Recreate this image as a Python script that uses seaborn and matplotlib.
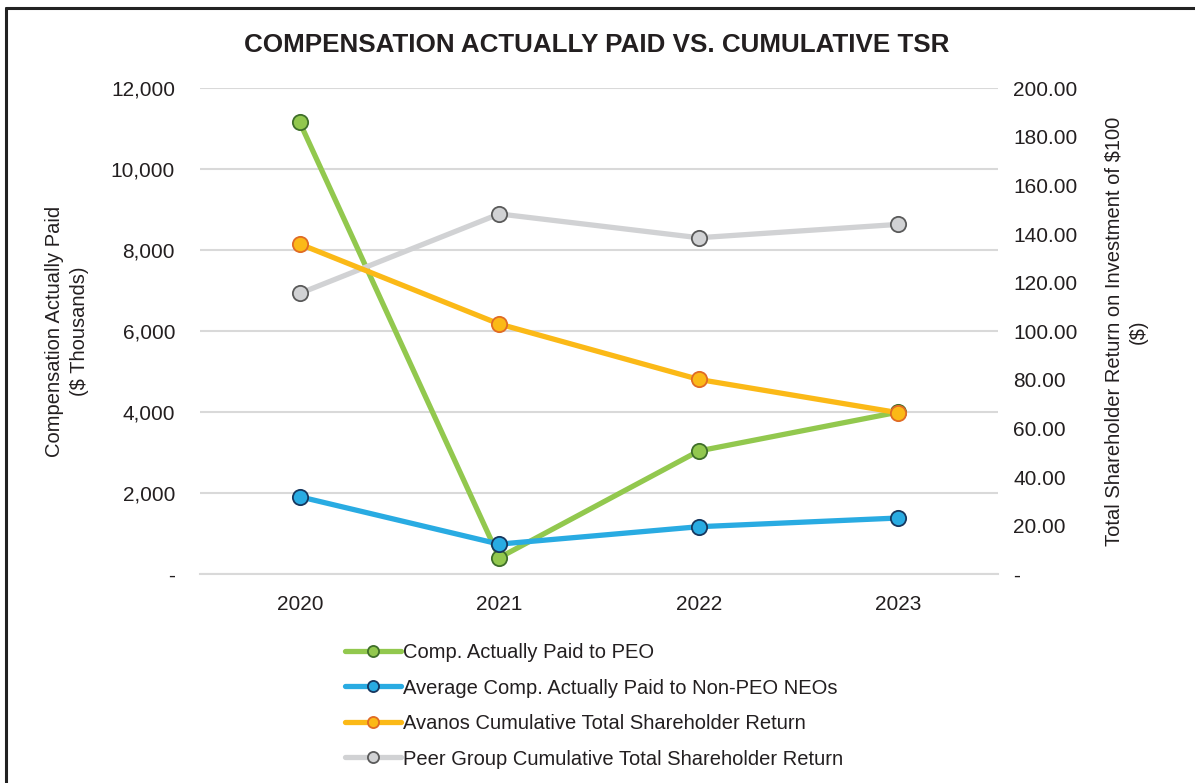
import matplotlib
matplotlib.use("Agg")
import matplotlib.pyplot as plt
from matplotlib.lines import Line2D
from matplotlib.ticker import FuncFormatter, FixedLocator
import seaborn as sns

# Fiscal years shown on the category axis
years = ["2020", "2021", "2022", "2023"]

# Compensation actually paid ($ thousands) - left axis
cap_peo = [11160, 410, 3045, 4005]
cap_non_peo = [1915, 745, 1175, 1390]

# Cumulative TSR, value of $100 invested - right axis
tsr_avanos = [135.9, 103.0, 80.2, 66.5]
tsr_peer = [115.6, 148.3, 138.5, 144.0]

series_labels = [
    "Comp. Actually Paid to PEO",
    "Average Comp. Actually Paid to Non-PEO NEOs",
    "Avanos Cumulative Total Shareholder Return",
    "Peer Group Cumulative Total Shareholder Return",
]

sns.set_theme(style="white")
plt.rcParams["font.family"] = ["Liberation Sans", "DejaVu Sans"]

TEXT = "#231f20"
GRID = "#d9d9d9"

W, H = 1195, 783
fig = plt.figure(figsize=(W / 100, H / 100), dpi=100)
fig.patch.set_facecolor("white")

ax = fig.add_axes([200 / W, 1 - 574.3 / H, (998 - 200) / W, (574.3 - 88.3) / H])
ax2 = ax.twinx()

pos = list(range(len(years)))

line_style = dict(linewidth=3.8, marker="o", markersize=11, markeredgewidth=1.3)

sns.lineplot(x=pos, y=cap_peo, ax=ax, color="#92c84e", markerfacecolor="#92c84e",
             markeredgecolor="#3f6f2a", label=series_labels[0], legend=False, **line_style)
sns.lineplot(x=pos, y=cap_non_peo, ax=ax, color="#29abe2", markerfacecolor="#29abe2",
             markeredgecolor="#17375e", label=series_labels[1], legend=False, **line_style)
sns.lineplot(x=pos, y=tsr_peer, ax=ax2, color="#d1d2d4", markerfacecolor="#d1d2d4",
             markeredgecolor="#5a5a5a", label=series_labels[3], legend=False, **line_style)
sns.lineplot(x=pos, y=tsr_avanos, ax=ax2, color="#fbb917", markerfacecolor="#fbb917",
             markeredgecolor="#e06b25", label=series_labels[2], legend=False, **line_style)

# Axis ranges
ax.set_xlim(-0.5, len(years) - 0.5)
ax.set_ylim(0, 12000)
ax2.set_ylim(0, 200)

ax.set_yticks(range(0, 12001, 2000))
ax2.set_yticks(range(0, 201, 20))
ax.yaxis.set_major_formatter(FuncFormatter(lambda v, p: "-" if v == 0 else f"{int(v):,}"))
ax2.yaxis.set_major_formatter(FuncFormatter(lambda v, p: "-" if v == 0 else f"{v:.2f}"))

ax.set_xticks(pos)
ax.set_xticklabels(years)
ax.xaxis.set_minor_locator(FixedLocator([i - 0.5 for i in range(len(years) + 1)]))

ax.grid(axis="y", color=GRID, linewidth=1.5)
ax.grid(axis="x", visible=False)
ax2.grid(False)

for a in (ax, ax2):
    for s in ("top", "left", "right", "bottom"):
        a.spines[s].set_visible(False)
ax.spines["bottom"].set_visible(True)
ax.spines["bottom"].set_color(GRID)
ax.spines["bottom"].set_linewidth(1.5)

ax.tick_params(axis="x", which="major", length=0, pad=15, labelsize=15, colors=TEXT)
ax.tick_params(axis="x", which="minor", length=8, width=1.5, color=GRID, direction="out")
ax.tick_params(axis="y", length=0, pad=18, labelsize=15, colors=TEXT)
ax2.tick_params(axis="y", length=0, pad=11, labelsize=15, colors=TEXT)

ax.set_ylabel("Compensation Actually Paid\n($ Thousands)", fontsize=14.5, color=TEXT,
              labelpad=16, linespacing=1.35)
ax2.set_ylabel("Total Shareholder Return on Investment of $100\n($)", fontsize=14.5,
               color=TEXT, labelpad=19, linespacing=1.35)

fig.text(0.4996, 1 - 45.5 / H, "COMPENSATION ACTUALLY PAID VS. CUMULATIVE TSR",
         ha="center", va="center", fontsize=18.7, fontweight="bold", color=TEXT)

# Legend below the plot, one entry per row
handles = [ax.get_lines()[0], ax.get_lines()[1], ax2.get_lines()[1], ax2.get_lines()[0]]
leg = fig.legend(handles, series_labels, loc="upper left",
                 bbox_to_anchor=(345 / W, 1 - 643 / H), frameon=False,
                 fontsize=14.5, handlelength=2.8, handletextpad=0.1,
                 labelspacing=0.82, borderpad=0, borderaxespad=0)
for h in leg.legend_handles:
    h.set_markersize(8)
for t in leg.get_texts():
    t.set_color(TEXT)

# Frame lines along the top and left edges of the figure
fig.add_artist(Line2D([6 / W, 6 / W], [0, 1 - 7.5 / H], transform=fig.transFigure,
                      color="#222222", linewidth=2.2))
fig.add_artist(Line2D([6 / W, 1], [1 - 7.5 / H, 1 - 7.5 / H], transform=fig.transFigure,
                      color="#222222", linewidth=2.2))

fig.savefig("out.png", dpi=100)
